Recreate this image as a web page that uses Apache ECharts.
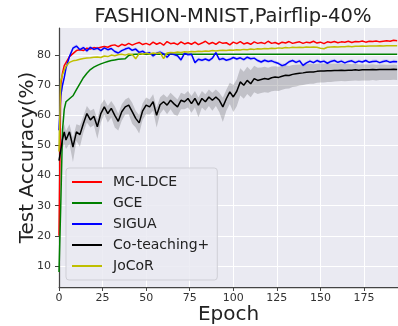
<!DOCTYPE html>
<html>
<head>
<meta charset="utf-8">
<script src="https://cdn.jsdelivr.net/npm/echarts@6/dist/echarts.min.js"></script>
<style>
  html, body { margin: 0; padding: 0; background: #fff; }
  #chart { width: 398px; height: 326px; }
</style>
</head>
<body>
<div id="chart"></div>
<script>
// epochs sampled from the figure
const epochs = [0, 1, 2, 3, 4, 6, 8, 10, 12, 14,
  16, 18, 20, 22, 24, 26, 28, 30, 32, 34,
  36, 38, 40, 42, 44, 46, 48, 50, 52, 54,
  56, 58, 60, 62, 64, 66, 68, 70, 72, 74,
  76, 78, 80, 82, 84, 86, 88, 90, 92, 94,
  96, 98, 100, 102, 104, 106, 108, 110, 112, 114,
  116, 118, 120, 122, 124, 126, 128, 130, 132, 134,
  136, 138, 140, 142, 144, 146, 148, 150, 152, 154,
  156, 158, 160, 162, 164, 166, 168, 170, 172, 174,
  176, 178, 180, 182, 184, 186, 188, 190, 192, 194]

const mcldce = [20, 70, 74, 76.5, 77.5, 79.5, 80.5, 81.5, 81.8, 81.5,
  82.3, 82, 82.5, 82.3, 82.6, 82.9, 82.6, 83.2, 83.4, 82.8,
  83.6, 83.2, 83.9, 83.3, 83.8, 84.2, 83.5, 83.9, 83.4, 84.3,
  83.6, 84.1, 83.3, 84.5, 83.8, 84.0, 83.5, 84.4, 83.7, 84.1,
  83.6, 84.3, 83.5, 84.0, 84.6, 83.7, 84.2, 83.6, 84.4, 83.9,
  84.1, 83.4, 84.3, 83.8, 84.5, 83.7, 84.1, 83.6, 84.4, 83.9,
  84.2, 83.8, 84.6, 83.9, 84.2, 83.7, 84.3, 84.0, 84.5, 83.9,
  84.2, 84.4, 83.9, 84.3, 84.1, 84.6, 84.0, 84.3, 83.8, 84.4,
  84.2, 84.5, 84.1, 84.4, 84.3, 84.6, 84.2, 84.5, 84.4, 84.7,
  84.3, 84.6, 84.5, 84.7, 84.4, 84.6, 84.8, 84.6, 84.9, 84.8]

const gce = [8, 30, 55, 62, 64.5, 65.5, 66.5, 68.5, 70.5, 72.5,
  74, 75.2, 76, 76.6, 77.1, 77.5, 77.9, 78.2, 78.4, 78.6,
  78.7, 78.8, 79.9, 80.2, 80.3, 80.3, 80.3, 80.3, 80.3, 80.3,
  80.3, 80.3, 80.3, 80.3, 80.3, 80.3, 80.3, 80.3, 80.3, 80.3,
  80.3, 80.3, 80.3, 80.3, 80.3, 80.3, 80.3, 80.3, 80.3, 80.3,
  80.3, 80.3, 80.3, 80.3, 80.3, 80.3, 80.3, 80.3, 80.3, 80.3,
  80.3, 80.3, 80.3, 80.3, 80.3, 80.3, 80.3, 80.3, 80.3, 80.3,
  80.3, 80.3, 80.3, 80.3, 80.3, 80.3, 80.3, 80.3, 80.3, 80.3,
  80.3, 80.3, 80.3, 80.3, 80.3, 80.3, 80.3, 80.3, 80.3, 80.3,
  80.3, 80.3, 80.3, 80.3, 80.3, 80.3, 80.3, 80.3, 80.3, 80.3]

const sigua = [55, 66.5, 70, 72.5, 75.7, 79.5, 82.3, 83, 81.8, 82.5,
  81.4, 82.6, 81.9, 82.3, 81.5, 82.4, 81.8, 82.2, 81.2, 80.7,
  81.5, 82.0, 82.4, 81.6, 82.0, 80.9, 81.3, 80.5, 80.8, 79.7,
  80.6, 81.0, 80.4, 79.3, 80.5, 80.2, 79.8, 78.4, 80.6, 80.1,
  80.3, 77.5, 78.6, 78.3, 78.7, 78.2, 79.0, 80.8, 78.5, 78.9,
  78.3, 78.6, 79.2, 78.7, 79.1, 78.5, 79.3, 78.8, 79.0, 78.2,
  77.7, 78.3, 77.9, 78.1, 77.6, 77.2, 76.5, 76.9, 77.8, 78.2,
  77.6, 78.1, 76.6, 77.4, 78.0, 77.5, 78.2, 77.7, 78.0, 77.3,
  77.9, 78.2, 77.6, 78.0, 77.4, 77.9, 78.1, 77.5, 78.0, 77.7,
  78.2, 77.6, 77.9, 78.0, 77.5, 77.9, 78.1, 77.6, 77.9, 77.8]

// spread of the light blue band round SIGUA
const siguaSpread = [1, 1, 1, 1, 1, 0.8, 0.7, 0.6, 0.6, 0.7,
  0.6, 0.6, 0.5, 0.6, 0.6, 0.5, 0.6, 0.5, 0.6, 0.6,
  0.5, 0.6, 0.6, 0.5, 0.6, 0.6, 0.5, 0.6, 0.6, 0.6,
  0.5, 0.6, 0.6, 0.6, 0.5, 0.6, 0.6, 0.7, 0.6, 0.5,
  0.6, 0.7, 0.6, 0.6, 0.5, 0.6, 0.6, 0.7, 0.6, 0.6,
  0.5, 0.6, 0.6, 0.6, 0.5, 0.6, 0.6, 0.6, 0.5, 0.6,
  0.6, 0.6, 0.5, 0.6, 0.6, 0.6, 0.7, 0.6, 0.6, 0.5,
  0.6, 0.6, 0.7, 0.6, 0.6, 0.5, 0.6, 0.6, 0.6, 0.5,
  0.6, 0.6, 0.5, 0.6, 0.6, 0.5, 0.6, 0.6, 0.5, 0.6,
  0.6, 0.5, 0.6, 0.6, 0.5, 0.6, 0.6, 0.5, 0.6, 0.6]

const coteach = [45, 48.4, 52, 54.5, 51.8, 54.5, 49.5, 54.5, 53.6, 57.3,
  60.6, 58.5, 59.7, 56.2, 60.6, 62.8, 60.6, 62.3, 60.0, 58.0,
  61.2, 62.8, 63.4, 61.2, 59.0, 57.5, 61.5, 63.4, 62.8, 64.5,
  60.0, 63.5, 64.5, 63.4, 65.0, 63.8, 62.8, 65.0, 64.5, 65.6,
  63.9, 65.6, 63.4, 65.6, 64.5, 66.1, 65.0, 66.1, 65.0, 62.8,
  65.5, 67.8, 66.1, 68.0, 71.1, 70.0, 71.6, 70.5, 72.2, 71.6,
  71.9, 72.2, 72.0, 72.5, 72.7, 72.6, 73.0, 73.3, 73.2, 73.6,
  73.8, 74.0, 74.1, 74.3, 74.4, 74.4, 74.6, 74.7, 74.7, 74.8,
  74.8, 74.9, 74.9, 75.0, 74.9, 75.0, 75.0, 75.1, 75.0, 75.1,
  75.1, 75.1, 75.2, 75.1, 75.2, 75.2, 75.2, 75.2, 75.3, 75.2]

// spread of the grey band under / over the Co-teaching+ mean
const coteachDown = [2, 3, 3, 4, 3, 4, 5, 3, 4, 3,
  3, 2.5, 3, 4, 3, 2.5, 3, 3, 4, 3,
  3, 2.5, 3, 4, 3, 3.5, 3, 3, 2.5, 3,
  4, 3, 2.5, 3, 3, 3.5, 3, 3, 2.5, 3,
  3, 3, 4, 3, 3, 3, 3.5, 3, 4, 5,
  4, 4, 5, 5, 4.5, 4.5, 4.5, 4.5, 4.5, 4.5,
  4.5, 4.5, 4.5, 4.5, 4.5, 4.5, 4.5, 4.5, 4.3, 4.2,
  4.2, 4.1, 4.0, 4.0, 3.9, 3.9, 3.8, 3.8, 3.8, 3.7,
  3.7, 3.7, 3.6, 3.6, 3.6, 3.6, 3.5, 3.5, 3.5, 3.5,
  3.5, 3.5, 3.5, 3.5, 3.5, 3.5, 3.5, 3.5, 3.5, 3.5]
const coteachUp = [2, 2.5, 3, 2.5, 3, 2.5, 3, 2.5, 3, 2.5,
  2.5, 3, 2.5, 2.5, 3, 2.5, 2.5, 2.5, 3, 2.5,
  2.5, 2.5, 2.5, 3, 2.5, 2.5, 2.5, 2.5, 2.5, 2.5,
  2.5, 2.5, 2.5, 2.5, 2.5, 2.5, 2.5, 2.5, 2.5, 2.5,
  2.5, 2.5, 2.5, 2.5, 2.5, 2.5, 2.5, 2.5, 2.5, 3,
  3, 3, 4, 4, 4.5, 4.5, 4.5, 4.5, 4.3, 4.2,
  4.0, 3.9, 3.8, 3.7, 3.6, 3.5, 3.4, 3.3, 3.2, 3.1,
  3.0, 2.9, 2.8, 2.7, 2.7, 2.6, 2.5, 2.5, 2.4, 2.4,
  2.3, 2.3, 2.2, 2.2, 2.1, 2.1, 2.0, 2.0, 1.9, 1.9,
  1.8, 1.8, 1.8, 1.7, 1.7, 1.7, 1.6, 1.6, 1.6, 1.5]

const jocor = [48, 71.5, 73.5, 75, 76.3, 77.6, 78.1, 78.3, 78.6, 78.9,
  79.0, 79.1, 79.3, 79.4, 79.2, 79.7, 79.5, 80.0, 79.8, 80.1,
  80.3, 80.0, 80.4, 80.2, 78.8, 80.5, 80.3, 80.6, 80.4, 80.7,
  80.5, 80.8, 78.8, 80.7, 80.9, 80.8, 81.0, 80.9, 81.1, 81.0,
  81.2, 81.1, 81.3, 81.2, 81.4, 81.3, 81.5, 81.4, 81.5, 81.6,
  81.5, 81.7, 81.6, 81.8, 81.7, 81.9, 81.8, 82.0, 81.9, 82.1,
  82.0, 82.2, 82.1, 82.3, 82.2, 82.4, 82.3, 82.5, 82.4, 82.6,
  82.5, 82.6, 82.5, 82.7, 82.6, 82.7, 82.6, 82.3, 82.1, 82.6,
  82.7, 82.8, 82.7, 82.8, 82.8, 82.9, 82.8, 82.9, 82.9, 83.0,
  82.9, 83.0, 83.0, 83.0, 83.1, 83.0, 83.1, 83.1, 83.1, 83.1]

const yTicks = [10, 20, 30, 40, 50, 60, 70, 80]
const legendNames = ['MC-LDCE', 'GCE', 'SIGUA', 'Co-teaching+', 'JoCoR']

const chart = echarts.init(document.getElementById('chart'))
const pts = arr => epochs.map((e, i) => [e, arr[i]])
const font = 'DejaVu Sans'

const line = (name, data, color) => ({
  name,
  type: 'line',
  data: pts(data),
  showSymbol: false,
  symbol: 'none',
  lineStyle: { color, width: 1.5 },
  itemStyle: { color },
  z: 3
})

// shaded band as one polygon, upper edge then lower edge back
const band = (mean, down, up, fill) => ({
  type: 'custom',
  silent: true,
  clip: true,
  z: 1,
  data: [[0, mean[0]]],
  renderItem: (params, api) => {
    const upper = epochs.map((e, i) => api.coord([e, mean[i] + up[i]]))
    const lower = epochs.map((e, i) => api.coord([e, mean[i] - down[i]])).reverse()
    return { type: 'polygon', shape: { points: upper.concat(lower) }, style: { fill } }
  }
})

const option = {
  animation: false,
  title: {
    text: 'FASHION-MNIST,Pairflip-40%',
    left: 228, top: 2, textAlign: 'center',
    textStyle: { fontFamily: font, fontSize: 19.5, fontWeight: 'normal', color: '#222' }
  },
  grid: {
    left: 59, right: 0, top: 28, bottom: 39,
    outerBoundsMode: 'none',
    show: true, backgroundColor: '#eaeaf2', borderWidth: 0
  },
  legend: {
    data: legendNames,
    orient: 'vertical',
    left: 66, top: 168,
    icon: 'rect',
    itemWidth: 30, itemHeight: 2, itemGap: 7,
    padding: [7, 8, 7, 6],
    backgroundColor: 'rgba(234,234,242,0.85)',
    borderColor: '#cfcfd6', borderWidth: 1, borderRadius: 3,
    textStyle: { fontFamily: font, fontSize: 14, lineHeight: 14, color: '#222', padding: [0, 0, 0, 6] }
  },
  xAxis: {
    type: 'value', min: 0, max: 194.5, interval: 25,
    name: 'Epoch', nameLocation: 'middle', nameGap: 18, nameMoveOverlap: false,
    nameTextStyle: { fontFamily: font, fontSize: 20, color: '#222' },
    axisLine: { show: true, lineStyle: { color: '#444', width: 1.25 } },
    axisTick: { show: true, length: 4, lineStyle: { color: '#444' } },
    axisLabel: { fontFamily: font, fontSize: 11, color: '#333', margin: 6, showMaxLabel: false },
    splitLine: { show: true, lineStyle: { color: '#fff', width: 1 } }
  },
  yAxis: {
    type: 'value', min: 3, max: 89,
    name: 'Test Accuracy(%)', nameLocation: 'middle', nameGap: 21, nameMoveOverlap: false,
    nameTextStyle: { fontFamily: font, fontSize: 20, color: '#222' },
    axisLine: { show: true, lineStyle: { color: '#444', width: 1.25 } },
    axisTick: { show: true, length: 4, customValues: yTicks, lineStyle: { color: '#444' } },
    axisLabel: { fontFamily: font, fontSize: 11, color: '#333', margin: 8, customValues: yTicks },
    splitLine: { show: true, lineStyle: { color: '#fff', width: 1 } }
  },
  series: [
    band(coteach, coteachDown, coteachUp, 'rgba(110,110,115,0.33)'),
    band(sigua, siguaSpread, siguaSpread, 'rgba(90,90,255,0.18)'),
    line('MC-LDCE', mcldce, '#ff0000'),
    line('GCE', gce, '#008000'),
    line('SIGUA', sigua, '#0000ff'),
    line('Co-teaching+', coteach, '#000000'),
    line('JoCoR', jocor, '#bfbf00')
  ]
}
chart.setOption(option)
</script>
</body>
</html>
